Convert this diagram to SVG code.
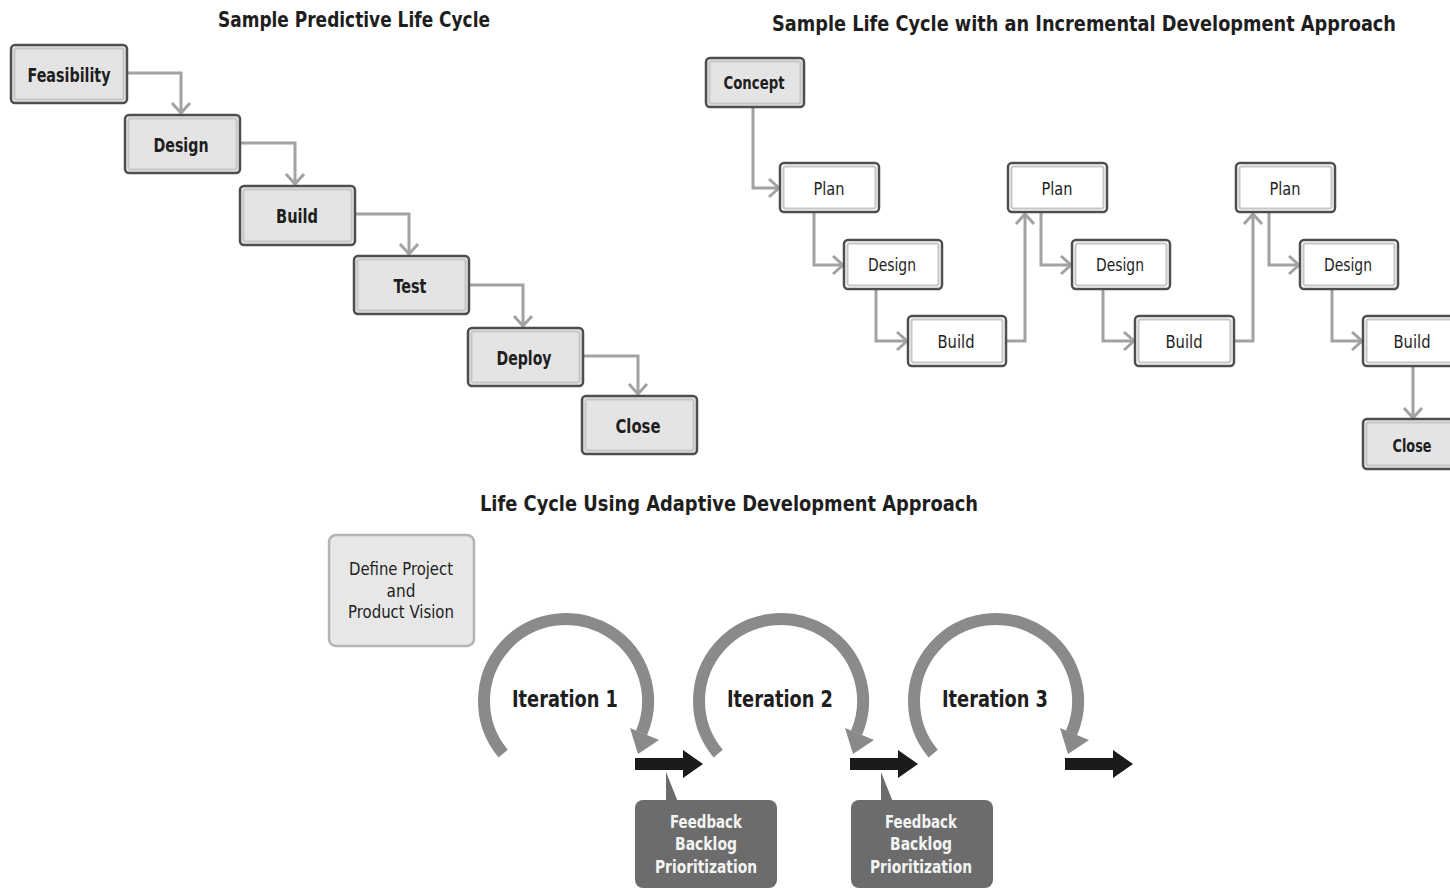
<svg xmlns="http://www.w3.org/2000/svg" width="1450" height="889" viewBox="0 0 1450 889">
  <style>
    text { font-family: "Liberation Sans Narrow", "DejaVu Sans Condensed", "Liberation Sans", sans-serif; fill: #1e1e1e; text-anchor: middle; }
    .title { font-size: 21px; font-weight: bold; }
    .lbl-b { font-size: 20px; font-weight: bold; }
    .lbl { font-size: 18px; }
    .lbl-ib { font-size: 18px; font-weight: bold; }
    .iter { font-size: 23px; font-weight: bold; }
    .fb { font-size: 18px; font-weight: bold; fill: #f4f4f4; }
    .vis { font-size: 17px; }
    .box-grey { fill: #e4e4e4; stroke: #4e4e4e; stroke-width: 2.5; }
    .box-white { fill: #ffffff; stroke: #4e4e4e; stroke-width: 2.5; }
    .inner { fill: none; stroke: #c6c6c6; stroke-width: 2; }
    .conn { fill: none; stroke: #a2a2a2; stroke-width: 3; marker-end: url(#chev); }
    .loop { fill: none; stroke: #8a8a8a; stroke-width: 12; }
    .loop-head { fill: #8a8a8a; }
    .next { fill: #1b1b1b; }
    .fbbox { fill: #6c6c6c; }
  </style>
  <defs>
    <marker id="chev" markerUnits="userSpaceOnUse" markerWidth="22" markerHeight="22" refX="11" refY="11" orient="auto">
      <path d="M1,2 L11,11 L1,20" fill="none" stroke="#a2a2a2" stroke-width="3"/>
    </marker>
  </defs>

  <rect width="1450" height="889" fill="#ffffff"/>

  <!-- section titles -->
  <text class="title" x="354" y="27" textLength="272" lengthAdjust="spacingAndGlyphs">Sample Predictive Life Cycle</text>
  <text class="title" x="1084" y="31" textLength="624" lengthAdjust="spacingAndGlyphs">Sample Life Cycle with an Incremental Development Approach</text>
  <text class="title" x="729" y="511" textLength="498" lengthAdjust="spacingAndGlyphs">Life Cycle Using Adaptive Development Approach</text>

  <!-- predictive connectors -->
  <g id="predictive-connectors">
    <path class="conn" d="M127,73 H181 V113"/>
    <path class="conn" d="M240,143 H295 V184"/>
    <path class="conn" d="M355,214 H409 V254"/>
    <path class="conn" d="M469,285 H523 V326"/>
    <path class="conn" d="M583,356 H638 V394"/>
  </g>

  <!-- predictive nodes -->
  <g id="p-feasibility">
    <rect class="box-grey" x="11" y="45" width="116" height="58" rx="4"/>
    <rect class="inner" x="14.5" y="48.5" width="109" height="51" rx="2"/>
    <text class="lbl-b" x="69" y="82" textLength="83" lengthAdjust="spacingAndGlyphs">Feasibility</text>
  </g>
  <g id="p-design">
    <rect class="box-grey" x="125" y="115" width="115" height="58" rx="4"/>
    <rect class="inner" x="128.5" y="118.5" width="108" height="51" rx="2"/>
    <text class="lbl-b" x="181" y="152" textLength="55" lengthAdjust="spacingAndGlyphs">Design</text>
  </g>
  <g id="p-build">
    <rect class="box-grey" x="240" y="186" width="115" height="59" rx="4"/>
    <rect class="inner" x="243.5" y="189.5" width="108" height="52" rx="2"/>
    <text class="lbl-b" x="297" y="223" textLength="42" lengthAdjust="spacingAndGlyphs">Build</text>
  </g>
  <g id="p-test">
    <rect class="box-grey" x="354" y="256" width="115" height="58" rx="4"/>
    <rect class="inner" x="357.5" y="259.5" width="108" height="51" rx="2"/>
    <text class="lbl-b" x="410" y="293" textLength="33" lengthAdjust="spacingAndGlyphs">Test</text>
  </g>
  <g id="p-deploy">
    <rect class="box-grey" x="468" y="328" width="115" height="58" rx="4"/>
    <rect class="inner" x="471.5" y="331.5" width="108" height="51" rx="2"/>
    <text class="lbl-b" x="524" y="365" textLength="55" lengthAdjust="spacingAndGlyphs">Deploy</text>
  </g>
  <g id="p-close">
    <rect class="box-grey" x="582" y="396" width="115" height="58" rx="4"/>
    <rect class="inner" x="585.5" y="399.5" width="108" height="51" rx="2"/>
    <text class="lbl-b" x="638" y="433" textLength="45" lengthAdjust="spacingAndGlyphs">Close</text>
  </g>

  <!-- incremental connectors -->
  <g id="incremental-connectors">
    <path class="conn" d="M753,108 V188 H779"/>
    <path class="conn" d="M814,213 V265 H843"/>
    <path class="conn" d="M876,289 V341 H907"/>
    <path class="conn" d="M1007,341 H1025 V214"/>
    <path class="conn" d="M1041,213 V265 H1071"/>
    <path class="conn" d="M1103,289 V341 H1134"/>
    <path class="conn" d="M1234,341 H1253 V214"/>
    <path class="conn" d="M1269,213 V265 H1299"/>
    <path class="conn" d="M1332,289 V341 H1362"/>
    <path class="conn" d="M1413,366 V418"/>
  </g>

  <!-- incremental nodes -->
  <g id="i-concept">
    <rect class="box-grey" x="706" y="58" width="98" height="49" rx="4"/>
    <rect class="inner" x="709.5" y="61.5" width="91" height="42" rx="2"/>
    <text class="lbl-ib" x="754" y="89" textLength="61" lengthAdjust="spacingAndGlyphs">Concept</text>
  </g>
  <g id="i-plan-1">
    <rect class="box-white" x="780" y="163" width="99" height="49" rx="4"/>
    <rect class="inner" x="783.5" y="166.5" width="92" height="42" rx="2"/>
    <text class="lbl" x="829" y="195" textLength="31" lengthAdjust="spacingAndGlyphs">Plan</text>
  </g>
  <g id="i-design-1">
    <rect class="box-white" x="844" y="240" width="98" height="49" rx="4"/>
    <rect class="inner" x="847.5" y="243.5" width="91" height="42" rx="2"/>
    <text class="lbl" x="892" y="271" textLength="48" lengthAdjust="spacingAndGlyphs">Design</text>
  </g>
  <g id="i-build-1">
    <rect class="box-white" x="908" y="316" width="98" height="50" rx="4"/>
    <rect class="inner" x="911.5" y="319.5" width="91" height="43" rx="2"/>
    <text class="lbl" x="956" y="348" textLength="37" lengthAdjust="spacingAndGlyphs">Build</text>
  </g>
  <g id="i-plan-2">
    <rect class="box-white" x="1008" y="163" width="99" height="49" rx="4"/>
    <rect class="inner" x="1011.5" y="166.5" width="92" height="42" rx="2"/>
    <text class="lbl" x="1057" y="195" textLength="31" lengthAdjust="spacingAndGlyphs">Plan</text>
  </g>
  <g id="i-design-2">
    <rect class="box-white" x="1072" y="240" width="98" height="49" rx="4"/>
    <rect class="inner" x="1075.5" y="243.5" width="91" height="42" rx="2"/>
    <text class="lbl" x="1120" y="271" textLength="48" lengthAdjust="spacingAndGlyphs">Design</text>
  </g>
  <g id="i-build-2">
    <rect class="box-white" x="1135" y="316" width="99" height="50" rx="4"/>
    <rect class="inner" x="1138.5" y="319.5" width="92" height="43" rx="2"/>
    <text class="lbl" x="1184" y="348" textLength="37" lengthAdjust="spacingAndGlyphs">Build</text>
  </g>
  <g id="i-plan-3">
    <rect class="box-white" x="1236" y="163" width="99" height="49" rx="4"/>
    <rect class="inner" x="1239.5" y="166.5" width="92" height="42" rx="2"/>
    <text class="lbl" x="1285" y="195" textLength="31" lengthAdjust="spacingAndGlyphs">Plan</text>
  </g>
  <g id="i-design-3">
    <rect class="box-white" x="1300" y="240" width="98" height="49" rx="4"/>
    <rect class="inner" x="1303.5" y="243.5" width="91" height="42" rx="2"/>
    <text class="lbl" x="1348" y="271" textLength="48" lengthAdjust="spacingAndGlyphs">Design</text>
  </g>
  <g id="i-build-3">
    <rect class="box-white" x="1363" y="316" width="99" height="50" rx="4"/>
    <rect class="inner" x="1366.5" y="319.5" width="92" height="43" rx="2"/>
    <text class="lbl" x="1412" y="348" textLength="37" lengthAdjust="spacingAndGlyphs">Build</text>
  </g>
  <g id="i-close">
    <rect class="box-grey" x="1363" y="419" width="99" height="50" rx="4"/>
    <rect class="inner" x="1366.5" y="422.5" width="92" height="43" rx="2"/>
    <text class="lbl-ib" x="1412" y="452" textLength="39" lengthAdjust="spacingAndGlyphs">Close</text>
  </g>

  <!-- adaptive section -->
  <g id="a-vision">
    <rect x="329" y="535" width="145" height="111" rx="7" fill="#e7e7e7" stroke="#b3b3b3" stroke-width="2.5"/>
    <text class="vis" x="401" y="575" textLength="104" lengthAdjust="spacingAndGlyphs">Define Project</text>
    <text class="vis" x="401" y="597">and</text>
    <text class="vis" x="401" y="618" textLength="106" lengthAdjust="spacingAndGlyphs">Product Vision</text>
  </g>

  <g id="a-iteration-1">
    <path class="loop" d="M503.2,753.7 A82,82 0 1 1 641.5,733"/>
    <polygon class="loop-head" points="630,728 659,740 638,754"/>
    <text class="iter" x="565" y="707" textLength="106" lengthAdjust="spacingAndGlyphs">Iteration 1</text>
  </g>
  <g id="a-iteration-2">
    <path class="loop" d="M718.2,753.7 A82,82 0 1 1 856.5,733"/>
    <polygon class="loop-head" points="845,728 874,740 853,754"/>
    <text class="iter" x="780" y="707" textLength="106" lengthAdjust="spacingAndGlyphs">Iteration 2</text>
  </g>
  <g id="a-iteration-3">
    <path class="loop" d="M933.2,753.7 A82,82 0 1 1 1071.5,733"/>
    <polygon class="loop-head" points="1060,728 1089,740 1068,754"/>
    <text class="iter" x="995" y="707" textLength="106" lengthAdjust="spacingAndGlyphs">Iteration 3</text>
  </g>

  <!-- flow arrows between iterations -->
  <g id="a-flow">
    <polygon class="next" points="635,758 683,758 683,750 703,764 683,778 683,770 635,770"/>
    <polygon class="next" points="850,758 898,758 898,750 918,764 898,778 898,770 850,770"/>
    <polygon class="next" points="1065,758 1113,758 1113,750 1133,764 1113,778 1113,770 1065,770"/>
  </g>

  <g id="a-feedback-1">
    <polygon class="fbbox" points="666,772 666,802 678,802"/>
    <rect class="fbbox" x="635" y="800" width="142" height="88" rx="8"/>
    <text class="fb" x="706" y="828" textLength="72" lengthAdjust="spacingAndGlyphs">Feedback</text>
    <text class="fb" x="706" y="850" textLength="62" lengthAdjust="spacingAndGlyphs">Backlog</text>
    <text class="fb" x="706" y="873" textLength="102" lengthAdjust="spacingAndGlyphs">Prioritization</text>
  </g>
  <g id="a-feedback-2">
    <polygon class="fbbox" points="881,772 881,802 893,802"/>
    <rect class="fbbox" x="851" y="800" width="142" height="88" rx="8"/>
    <text class="fb" x="921" y="828" textLength="72" lengthAdjust="spacingAndGlyphs">Feedback</text>
    <text class="fb" x="921" y="850" textLength="62" lengthAdjust="spacingAndGlyphs">Backlog</text>
    <text class="fb" x="921" y="873" textLength="102" lengthAdjust="spacingAndGlyphs">Prioritization</text>
  </g>
</svg>
